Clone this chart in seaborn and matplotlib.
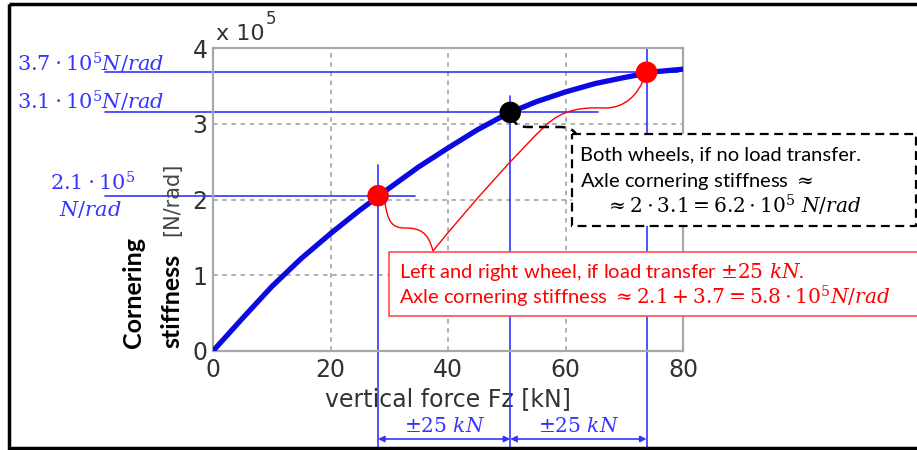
import matplotlib
matplotlib.use("Agg")
import matplotlib.pyplot as plt
import matplotlib.transforms as mtransforms
from matplotlib.patches import Rectangle, PathPatch
from matplotlib.path import Path
import seaborn as sns

# ---------------- data ----------------
fz = [0, 5, 10, 15, 20, 25, 30, 35, 40, 45, 50, 55, 60, 65, 70, 75, 80]
stiffness = [0.0, 0.43, 0.85, 1.22, 1.55, 1.86, 2.15, 2.43, 2.68, 2.92, 3.13,
             3.29, 3.42, 3.53, 3.61, 3.685, 3.72]
marker_fz = [28.1, 50.6, 73.8]
marker_c = [2.05, 3.15, 3.68]
marker_kind = ["transfer", "none", "transfer"]
x_ticks = [0, 20, 40, 60, 80]
y_ticks = [0, 1, 2, 3, 4]
x_label = "vertical force Fz [kN]"
level_labels = [r"$3.7\cdot10^5N/rad$", r"$3.1\cdot10^5N/rad$"]
level_label_21 = [r"$2.1\cdot10^5$", r"$N/rad$"]
delta_label = r"$\pm25\ kN$"
red_text = ["Left and right wheel, if load transfer " + r"$\pm25\ kN$.",
            "Axle cornering stiffness " + r"$\approx2.1+3.7=5.8\cdot10^5N/rad$"]
black_text = ["Both wheels, if no load transfer.",
              "Axle cornering stiffness " + r"$\approx$",
              r"$\approx2\cdot3.1=6.2\cdot10^5\ N/rad$"]

# ---------------- style ----------------
W, H = 917, 450
sns.set_theme(style="white")
plt.rcParams["font.family"] = ["DejaVu Sans"]
plt.rcParams["mathtext.fontset"] = "dejavuserif"

BLUE = "#3535ff"
TICK = "#333333"

fig = plt.figure(figsize=(W / 100, H / 100), dpi=100)
fig.patch.set_facecolor("white")

def fx(x):
    return x / W

def fy(y):
    return 1 - y / H

# pixel -> figure transform for annotation shapes
pix = mtransforms.Affine2D().scale(1 / W, -1 / H).translate(0, 1) + fig.transFigure

AX_L, AX_R, AX_T, AX_B = 213, 683, 48, 351
ax = fig.add_axes([fx(AX_L), fy(AX_B), (AX_R - AX_L) / W, (AX_B - AX_T) / H])
ax.set_xlim(0, 80)
ax.set_ylim(0, 4)
ax.set_xticks(x_ticks)
ax.set_yticks(y_ticks)
ax.set_xticklabels([str(v) for v in x_ticks])
ax.set_yticklabels([str(v) for v in y_ticks])
ax.tick_params(length=0, labelsize=17, colors=TICK, pad=4)
ax.tick_params(axis="x", pad=5)
ax.grid(True, color="#9a9a9a", linestyle=(0, (3, 3)), linewidth=1.1)
for s in ax.spines.values():
    s.set_color("#a8a8a8")
    s.set_linewidth(1.6)
ax.set_xlabel(x_label, fontsize=17, color=TICK)
ax.xaxis.set_label_coords(0.5, -0.12)
ax.xaxis.label.set_va("top")
ax.set_ylabel("")

def px2x(px):
    return (px - AX_L) / (AX_R - AX_L) * 80

def py2y(py):
    return (AX_B - py) / (AX_B - AX_T) * 4

# main curve
sns.lineplot(x=fz, y=stiffness, ax=ax, color="#0a0ae0", linewidth=3.8, zorder=3)

# guide lines (anchored at the marker values)
h_end_px = [415, 598, 678]
v_top_px = [165, 96, 48]
x_left = px2x(105)
y_bottom = py2y(447)
for mx, my, he, vt in zip(marker_fz, marker_c, h_end_px, v_top_px):
    ax.plot([x_left, px2x(he)], [my, my], color=BLUE, lw=1.2, clip_on=False, zorder=2)
    ax.plot([mx, mx], [py2y(vt), y_bottom], color=BLUE, lw=1.2, clip_on=False, zorder=2)

# markers
sns.scatterplot(x=marker_fz, y=marker_c, hue=marker_kind,
                palette={"transfer": "#ff0000", "none": "#000000"},
                s=240, edgecolor="none", legend=False, ax=ax, zorder=5, clip_on=False)

# dimension arrows
y_dim = py2y(439)
for a, b in [(marker_fz[0], marker_fz[1]), (marker_fz[1], marker_fz[2])]:
    ax.annotate("", xy=(a, y_dim), xytext=(b, y_dim),
                arrowprops=dict(arrowstyle="<|-|>", color=BLUE, lw=1.2,
                                mutation_scale=9, shrinkA=0, shrinkB=0),
                annotation_clip=False)
    ax.text((a + b) / 2, py2y(427), delta_label, color=BLUE, fontsize=14.5,
            ha="center", va="center", clip_on=False)

# level labels on the left
fig.text(fx(17), fy(63), level_labels[0], color=BLUE, fontsize=15, ha="left", va="center")
fig.text(fx(17), fy(101), level_labels[1], color=BLUE, fontsize=15, ha="left", va="center")
fig.text(fx(93), fy(183), level_label_21[0], color=BLUE, fontsize=15, ha="center", va="center")
fig.text(fx(90), fy(209), level_label_21[1], color=BLUE, fontsize=15, ha="center", va="center")

# y label pieces
fig.text(fx(133), fy(292), "Cornering", rotation=90, ha="center", va="center",
         fontsize=18, fontweight="bold", family=["Lato", "DejaVu Sans"], color="black")
fig.text(fx(172), fy(301), "stiffness", rotation=90, ha="center", va="center",
         fontsize=18, fontweight="bold", family=["Lato", "DejaVu Sans"], color="black")
fig.text(fx(172), fy(199), "[N/rad]", rotation=90, ha="center", va="center",
         fontsize=15, color="#444444")

# exponent label
base = fig.text(fx(216), fy(40), "x 10", fontsize=16, color=TICK, ha="left", va="baseline")
fig.canvas.draw()
bb = base.get_window_extent(renderer=fig.canvas.get_renderer())
fig.text(bb.x1 / W + 1.5 / W, fy(24), "5", fontsize=12, color=TICK, ha="left", va="baseline")

# outer frame
fig.add_artist(Rectangle((9, 4), 940, 444, transform=pix, fill=False,
                         ec="black", lw=2.5, zorder=1))

# callout tails
red_tail = Path([(433, 251), (428, 232), (420, 228), (405, 228),
                 (392, 228), (388, 222), (385, 203)],
                [Path.MOVETO, Path.CURVE4, Path.CURVE4, Path.CURVE4,
                 Path.CURVE4, Path.CURVE4, Path.CURVE4])
fig.add_artist(PathPatch(red_tail, transform=pix, fill=False, ec="red", lw=1.0, zorder=6))
red_tail2 = Path([(433, 251), (470, 205), (520, 150), (545, 126),
                  (562, 110), (580, 107), (605, 108),
                  (625, 108), (638, 95), (645, 76)],
                 [Path.MOVETO, Path.CURVE4, Path.CURVE4, Path.CURVE4,
                  Path.CURVE4, Path.CURVE4, Path.CURVE4,
                  Path.CURVE4, Path.CURVE4, Path.CURVE4])
fig.add_artist(PathPatch(red_tail2, transform=pix, fill=False, ec="red", lw=1.0, zorder=6))
black_tail = Path([(512, 116), (515, 126), (520, 127), (530, 127),
                   (560, 127), (570, 127), (575, 131), (578, 137)],
                  [Path.MOVETO, Path.CURVE4, Path.CURVE4, Path.CURVE4,
                   Path.LINETO, Path.CURVE4, Path.CURVE4, Path.CURVE4])
fig.add_artist(PathPatch(black_tail, transform=pix, fill=False, ec="black", lw=1.8,
                         linestyle=(0, (4, 2.5)), zorder=6))

# callout boxes
fig.add_artist(Rectangle((572, 134), 344, 92, transform=pix, fc="white", ec="black",
                         lw=1.6, linestyle=(0, (4, 2.5)), zorder=7))
fig.add_artist(Rectangle((389, 252), 560, 64, transform=pix, fc="white", ec="#ff5a5a",
                         lw=1.3, zorder=7))

CALLOUT_FONT = ["Lato", "DejaVu Sans"]
fig.text(fx(399), fy(278), red_text[0], color="red", fontsize=14.5, family=CALLOUT_FONT,
         ha="left", va="baseline", zorder=8)
fig.text(fx(399), fy(304), red_text[1], color="red", fontsize=14.5, family=CALLOUT_FONT,
         ha="left", va="baseline", zorder=8)
fig.text(fx(580), fy(160), black_text[0], color="black", fontsize=14.5, family=CALLOUT_FONT,
         ha="left", va="baseline", zorder=8)
fig.text(fx(580), fy(187), black_text[1], color="black", fontsize=14.5, family=CALLOUT_FONT,
         ha="left", va="baseline", zorder=8)
fig.text(fx(605), fy(214), black_text[2], color="black", fontsize=14.5, family=CALLOUT_FONT,
         ha="left", va="baseline", zorder=8)

fig.savefig("out.png", dpi=100)
